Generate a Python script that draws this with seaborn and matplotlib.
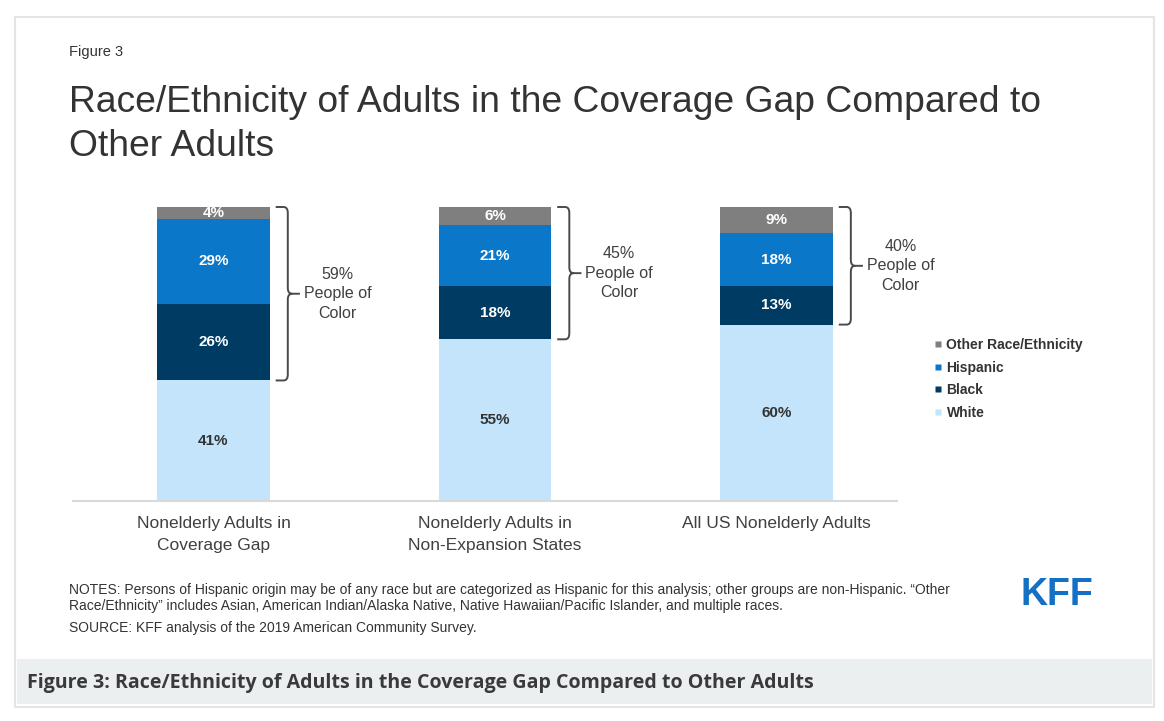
import matplotlib
matplotlib.use("Agg")
import matplotlib.pyplot as plt
import numpy as np
import pandas as pd
import seaborn as sns
from matplotlib.lines import Line2D
from matplotlib.patches import Rectangle, PathPatch
from matplotlib.path import Path

# data, bottom to top of each bar
groups = [
    "Nonelderly Adults in\nCoverage Gap",
    "Nonelderly Adults in\nNon-Expansion States",
    "All US Nonelderly Adults",
]
white = [41, 55, 60]
black = [26, 18, 13]
hispanic = [29, 21, 18]
other = [4, 6, 9]
poc_labels = ["59%\nPeople of\nColor", "45%\nPeople of\nColor", "40%\nPeople of\nColor"]

segments = ["White", "Black", "Hispanic", "Other Race/Ethnicity"]
colors = {
    "White": "#c3e4fa",
    "Black": "#003b64",
    "Hispanic": "#0a77c8",
    "Other Race/Ethnicity": "#7f7f7f",
}
label_colors = {
    "White": "#333333",
    "Black": "white",
    "Hispanic": "white",
    "Other Race/Ethnicity": "white",
}

W, H = 1164, 721
sns.set_theme(style="white")
plt.rcParams["font.family"] = ["Liberation Sans", "DejaVu Sans"]

df = pd.DataFrame(
    {"group": groups, "White": white, "Black": black, "Hispanic": hispanic,
     "Other Race/Ethnicity": other}
)
cum = df[segments].cumsum(axis=1)


def fx(x):
    return x / W


def fy(y):
    return 1 - y / H


fig = plt.figure(figsize=(W / 100, H / 100), dpi=100)
fig.patch.set_facecolor("white")

# outer card frame and caption band
fig.patches.append(Rectangle((fx(15), fy(707)), (1154 - 15) / W, (707 - 17) / H,
                             transform=fig.transFigure, facecolor="white",
                             edgecolor="#e4e6e6", linewidth=1.5, zorder=-2))
fig.patches.append(Rectangle((fx(17), fy(704)), (1152 - 17) / W, (704 - 659) / H,
                             transform=fig.transFigure, facecolor="#eceff0",
                             edgecolor="none", zorder=-1))

ax = fig.add_axes([fx(73), fy(501), (897 - 73) / W, 294 / H])
ax.set_facecolor("none")

# stacked bars: draw cumulative totals from tallest to shortest
for seg in reversed(segments):
    sns.barplot(x=df["group"], y=cum[seg], color=colors[seg], width=0.4,
                saturation=1, linewidth=0, ax=ax, zorder=2)

ax.set_ylim(0, 100)
ax.set_xlim(-0.499, 2.428)
ax.set_xlabel("")
ax.set_ylabel("")
ax.set_yticks([])
ax.set_xticks(range(len(groups)))
ax.set_xticklabels(groups, fontsize=12.5, color="#404040", linespacing=1.55)
ax.tick_params(axis="x", length=0, pad=11)
for s in ["top", "left", "right"]:
    ax.spines[s].set_visible(False)
ax.spines["bottom"].set_color("#d9d9d9")
ax.spines["bottom"].set_linewidth(1.5)

# segment labels
for i in range(len(groups)):
    base = 0
    for seg in segments:
        v = df.loc[i, seg]
        ax.text(i, base + v / 2, f"{v}%", ha="center", va="center",
                color=label_colors[seg], fontsize=11, fontweight="bold", zorder=5)
        base += v

# brackets for people of color
for i in range(len(groups)):
    top = 100
    bot = df.loc[i, "White"]
    mid = (top + bot) / 2
    x0 = i + 0.2 + 0.021
    xv = i + 0.2 + 0.064
    xt = i + 0.2 + 0.107
    rx, ry = 0.015, 2.0
    verts = [
        (x0, top), (xv - rx, top), (xv, top), (xv, top - ry),
        (xv, mid + ry), (xv, mid), (xv + rx, mid), (xt, mid),
        (x0, bot), (xv - rx, bot), (xv, bot), (xv, bot + ry),
        (xv, mid - ry), (xv, mid), (xv + rx, mid),
    ]
    codes = [
        Path.MOVETO, Path.LINETO, Path.CURVE3, Path.CURVE3,
        Path.LINETO, Path.CURVE3, Path.CURVE3, Path.LINETO,
        Path.MOVETO, Path.LINETO, Path.CURVE3, Path.CURVE3,
        Path.LINETO, Path.CURVE3, Path.CURVE3,
    ]
    ax.add_patch(PathPatch(Path(verts, codes), facecolor="none", edgecolor="#4a4a4a",
                           linewidth=1.4, zorder=3, clip_on=False))
    ax.text(i + 0.441, mid, poc_labels[i], ha="center", va="center", fontsize=11.5,
            color="#404040", linespacing=1.38)

# legend, top entry first
handles = [
    Line2D([], [], marker="s", linestyle="none", markersize=4.5,
           markerfacecolor=colors[s], markeredgecolor="none")
    for s in reversed(segments)
]
leg = fig.legend(handles, list(reversed(segments)), loc="upper left",
                 bbox_to_anchor=(fx(934), fy(338)), frameon=False, fontsize=10,
                 handlelength=0.6, handletextpad=0.3, labelspacing=0.62,
                 borderaxespad=0, borderpad=0)
for t in leg.get_texts():
    t.set_fontweight("bold")
    t.set_color("#333333")

# titles
fig.text(fx(69), fy(52), "Figure 3", fontsize=10.5, color="#333333", va="center")
fig.text(fx(69), fy(103),
         "Race/Ethnicity of Adults in the Coverage Gap Compared to",
         fontsize=26.8, color="#333333", va="center")
fig.text(fx(69), fy(147), "Other Adults", fontsize=26.8, color="#333333", va="center")

# notes
fig.text(fx(69), fy(590),
         "NOTES: Persons of Hispanic origin may be of any race but are categorized as "
         "Hispanic for this analysis; other groups are non-Hispanic. \u201cOther",
         fontsize=10, color="#333333", va="center")
fig.text(fx(69), fy(606),
         "Race/Ethnicity\u201d includes Asian, American Indian/Alaska Native, Native "
         "Hawaiian/Pacific Islander, and multiple races.",
         fontsize=10, color="#333333", va="center")
fig.text(fx(69), fy(628), "SOURCE: KFF analysis of the 2019 American Community Survey.",
         fontsize=10, color="#333333", va="center")

fig.text(fx(1057), fy(595), "KFF", fontsize=27, fontweight="bold", color="#1470c4",
         ha="center", va="center")

fig.text(fx(27), fy(683),
         "Figure 3: Race/Ethnicity of Adults in the Coverage Gap Compared to Other Adults",
         fontsize=14.1, fontweight="bold", color="#3a3a3a", va="center",
         family=["Open Sans", "DejaVu Sans"])

fig.savefig("out.png", dpi=100, facecolor="white")
